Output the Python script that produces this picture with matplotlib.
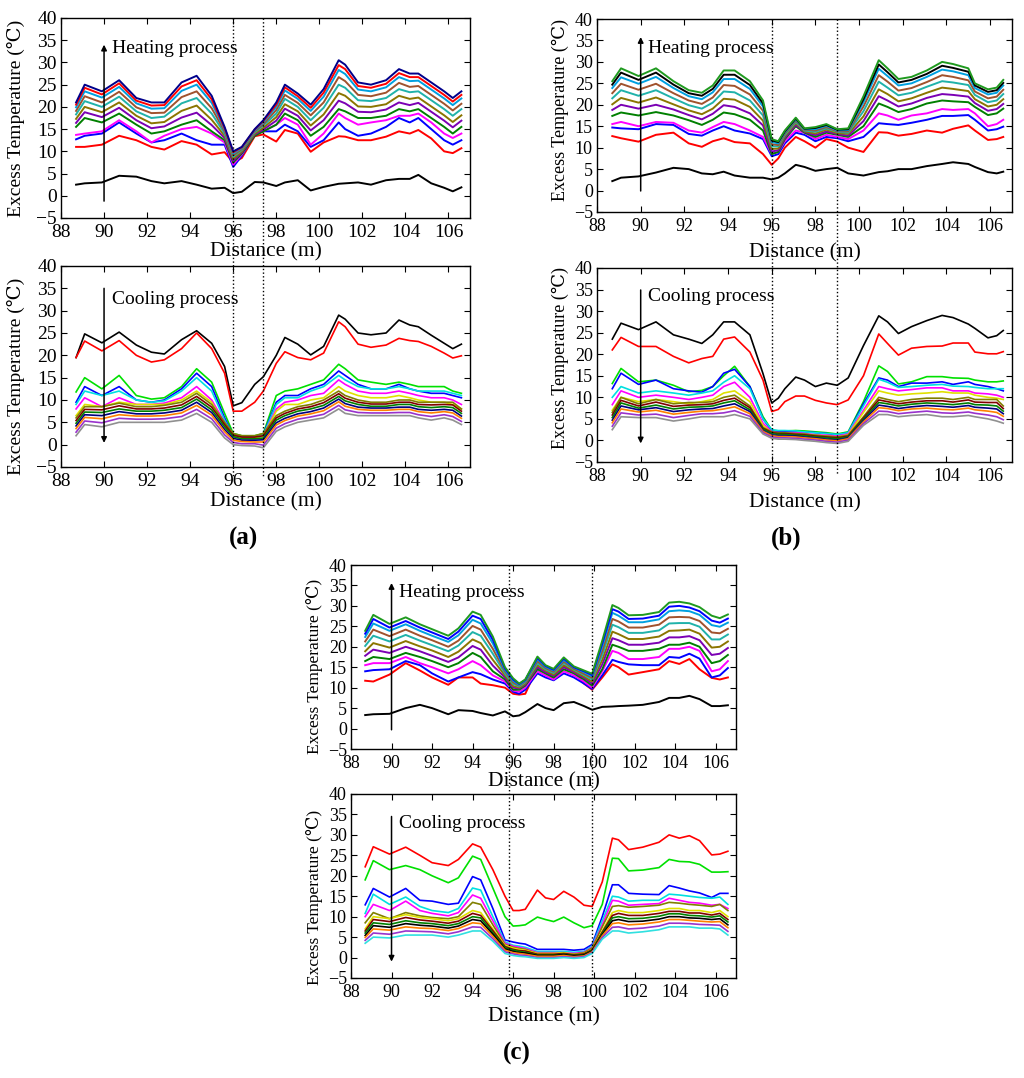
import matplotlib
matplotlib.use("Agg")

import matplotlib.pyplot as plt
from matplotlib import transforms
from matplotlib.lines import Line2D

plt.rcParams['font.family'] = ['Liberation Serif', 'DejaVu Serif']

# ---------------- panel (a) ----------------
xa = [88.7, 89.1, 89.9, 90.7, 91.5, 92.2, 92.8, 93.6, 94.3, 95.0, 95.6, 96.0, 96.4, 97.0, 97.4, 98.0,
      98.4, 99.0, 99.6, 100.2, 100.9, 101.2, 101.8, 102.4, 103.1, 103.7, 104.2, 104.6, 105.2, 105.8, 106.2, 106.6]

# heating, from the first (lowest) profile up to the last one
a_heat = [
    [2.5, 2.8, 3.0, 4.5, 4.3, 3.3, 2.8, 3.3, 2.5, 1.6, 1.8, 0.6, 0.9, 3.1, 3.0, 2.2, 3.0, 3.5, 1.2, 2.0, 2.7, 2.8, 3.0, 2.5, 3.5, 3.8, 3.8, 4.7, 2.8, 1.8, 1.0, 1.9],
    [11, 11, 11.5, 13.5, 12.5, 11, 10.4, 12.3, 11.5, 9.3, 9.8, 7.5, 8.5, 13.4, 13.8, 12.2, 14.8, 14, 9.9, 12, 13.4, 13.3, 12.5, 12.5, 13.3, 14.5, 14, 14.8, 12.9, 10, 9.6, 10.7],
    [12.7, 13.5, 14, 16.5, 14, 12, 12.5, 14, 12.5, 11.5, 11.5, 6.5, 9, 14, 14.5, 14.5, 16, 14.5, 11, 12.5, 16.5, 15, 13.5, 14, 15.5, 17.5, 16.5, 17.5, 15, 12.5, 11.5, 12.5],
    [13.7, 14, 14.5, 17, 14.5, 12, 13.5, 15, 15.5, 14, 12, 7, 9.3, 14, 14.5, 16, 17.5, 16, 11.5, 14, 18.5, 17.5, 16, 16.5, 17, 18, 18, 18.5, 16.5, 14, 13, 14],
    [15.5, 17.5, 16.5, 18.5, 16, 14, 14.5, 16, 17, 14.5, 12.5, 7.5, 9.5, 13.5, 14.5, 16, 18.5, 17, 13.5, 15.5, 19.5, 19, 17.5, 17.5, 18, 19.5, 19, 19.5, 17.5, 15.5, 14, 15.5],
    [16.4, 18.8, 17.7, 19.8, 17, 15.2, 15.6, 17.6, 18.7, 15.9, 13, 7.9, 9.8, 13.8, 14.9, 16.9, 19.6, 18, 14.7, 17, 21.4, 20.8, 18.9, 18.8, 19.4, 21, 20.4, 20.9, 18.9, 16.9, 15.4, 16.9],
    [17.3, 20, 18.8, 21, 18, 16.3, 16.6, 19.1, 20.3, 17.1, 13.5, 8.3, 10, 14, 15.3, 17.7, 20.6, 19, 15.8, 18.3, 23.1, 22.5, 20.1, 20, 20.6, 22.5, 21.8, 22.1, 20.1, 18.1, 16.6, 18.1],
    [18.3, 21.3, 20, 22.3, 19, 17.5, 17.8, 20.8, 22, 18.5, 14, 8.8, 10.3, 14.3, 15.8, 18.5, 21.8, 20, 17, 19.8, 25, 24.3, 21.5, 21.3, 22, 24, 23.3, 23.5, 21.5, 19.5, 18, 19.5],
    [19.1, 22.4, 21, 23.4, 19.9, 18.6, 18.7, 22.2, 23.5, 19.7, 14.5, 9.1, 10.5, 14.5, 16.1, 19.3, 22.7, 20.9, 18.1, 21, 26.7, 25.8, 22.7, 22.4, 23.2, 25.4, 24.5, 24.7, 22.7, 20.7, 19.2, 20.7],
    [19.9, 23.5, 22.1, 24.5, 20.8, 19.6, 19.7, 23.6, 25, 20.9, 14.9, 9.5, 10.7, 14.7, 16.5, 20, 23.7, 21.8, 19.1, 22.3, 28.3, 27.4, 23.9, 23.5, 24.4, 26.7, 25.8, 25.9, 23.9, 21.9, 20.4, 21.9],
    [20.5, 24.3, 22.8, 25.3, 21.4, 20.3, 20.4, 24.6, 26, 21.7, 15.2, 9.8, 10.9, 14.9, 16.8, 20.5, 24.4, 22.4, 19.8, 23.2, 29.4, 28.5, 24.7, 24.3, 25.2, 27.6, 26.7, 26.7, 24.7, 22.7, 21.2, 22.7],
    [21, 25, 23.5, 26, 22, 21, 21, 25.5, 27, 22.5, 15.5, 10, 11, 15, 17, 21, 25, 23, 20.5, 24, 30.5, 29.5, 25.5, 25, 26, 28.5, 27.5, 27.5, 25.5, 23.5, 22, 23.5],
]

# cooling, from the first (highest) profile down to the last one
a_cool = [
    [19.5, 24.8, 22.8, 25.2, 22.3, 20.7, 20.3, 23.5, 25.5, 22.7, 17.5, 8.7, 9.4, 13.5, 15.2, 20, 24, 22.5, 20.1, 22, 29, 28.1, 25, 24.6, 25, 27.9, 26.8, 26.4, 24.5, 22.7, 21.5, 22.5],
    [19.5, 23.2, 21, 23.3, 20, 18.5, 19, 21.5, 25, 21.5, 16, 7.5, 7.5, 9.5, 12, 18.2, 20.8, 19.5, 19, 20.5, 27.5, 26.4, 22.5, 21.8, 22.3, 23.8, 23.3, 23.1, 22, 20.5, 19.4, 19.9],
    [11.8, 15, 12.5, 15.5, 11, 10.2, 10.5, 13, 17, 14, 7, 2.5, 2, 2, 2.5, 11, 12, 12.5, 13.5, 14.5, 18, 17, 14.5, 14, 13.5, 14, 13.5, 13, 13, 13, 12, 11.5],
    [9.5, 13, 11, 13, 10, 9.5, 10, 12.5, 16, 13, 6, 2, 1.8, 1.8, 2.3, 9.5, 11, 11, 12.5, 13.5, 16.5, 15.5, 13.5, 12.5, 12.5, 13.5, 12.5, 12, 11.5, 11.5, 11, 10.5],
    [9, 12, 11, 12, 10, 9.5, 9.8, 12, 15, 12, 5.5, 2, 1.7, 1.8, 2.2, 9, 10.5, 10.5, 12, 13, 15.5, 14.5, 13, 12.5, 12.5, 13, 12.5, 12, 12, 12, 11.5, 11],
    [8, 10.5, 8.5, 10.5, 9, 9, 9.3, 10.5, 13, 10, 5, 2, 1.5, 1.5, 2, 8, 9.5, 10, 11, 11.5, 14.5, 13.5, 12, 11.5, 11.5, 12, 11.5, 11, 10.5, 10.5, 10, 9],
    [6.5, 9, 8.5, 9.5, 9, 9, 9, 10, 12, 9.5, 4.5, 1.8, 1.5, 1.5, 2, 7.5, 9, 9, 10, 10.5, 13, 12, 11, 10.5, 10.5, 11, 10.5, 10, 9.5, 9.5, 9, 8],
    [6, 8.5, 8.5, 9.3, 8.5, 8.5, 8.8, 9.5, 11.5, 9, 5, 2.5, 2, 2, 2.5, 6.5, 7.5, 8.5, 9, 10, 12, 11, 10, 9.5, 9.5, 10, 10, 9.5, 9.5, 9.5, 9.5, 8],
    [5.4, 7.9, 7.8, 8.7, 8, 8, 8.2, 8.9, 10.8, 8.4, 4.5, 2.1, 1.7, 1.7, 2, 6, 7, 8, 8.5, 9.4, 11.4, 10.4, 9.5, 9.1, 9.1, 9.5, 9.5, 9, 8.9, 9, 8.9, 7.5],
    [4.8, 7.3, 7.2, 8, 7.5, 7.5, 7.7, 8.3, 10.2, 7.8, 4, 1.8, 1.3, 1.3, 1.5, 5.5, 6.5, 7.5, 8, 8.8, 10.8, 9.8, 9, 8.6, 8.6, 9, 9, 8.5, 8.3, 8.5, 8.3, 7],
    [4.2, 6.7, 6.5, 7.4, 6.9, 6.9, 7.1, 7.7, 9.5, 7.2, 3.4, 1.4, 1, 1, 1.1, 4.9, 5.9, 6.9, 7.4, 8.2, 10.2, 9.2, 8.4, 8.2, 8.2, 8.4, 8.4, 7.9, 7.7, 7.9, 7.7, 6.4],
    [3.6, 6.1, 5.8, 6.7, 6.4, 6.4, 6.5, 7.1, 8.8, 6.6, 2.9, 1, 0.7, 0.6, 0.6, 4.4, 5.4, 6.4, 6.9, 7.6, 9.6, 8.6, 7.9, 7.7, 7.7, 7.9, 7.9, 7.4, 7.1, 7.4, 7.1, 5.9],
    [2.8, 5.3, 4.9, 5.9, 5.7, 5.7, 5.8, 6.3, 7.9, 5.8, 2.2, 0.5, 0.2, 0.2, -0.1, 3.7, 4.7, 5.7, 6.2, 6.8, 8.8, 7.8, 7.2, 7.1, 7.1, 7.2, 7.2, 6.7, 6.3, 6.7, 6.3, 5.2],
    [2, 4.5, 4, 5, 5, 5, 5, 5.5, 7, 5, 1.5, 0, -0.2, -0.3, -0.7, 3, 4, 5, 5.5, 6, 8, 7, 6.5, 6.5, 6.5, 6.5, 6.5, 6, 5.5, 6, 5.5, 4.5],
]

# ---------------- panel (b) ----------------
xb = [88.7, 89.1, 89.9, 90.7, 91.5, 92.2, 92.8, 93.3, 93.8, 94.3, 95.0, 95.6, 96.0, 96.3, 96.6, 97.1, 97.5,
      98.0, 98.5, 99.0, 99.5, 100.2, 100.9, 101.3, 101.8, 102.4, 103.1, 103.8, 104.3, 105.0, 105.3, 105.9, 106.3, 106.6]

b_heat = [
    [2.2, 3, 3.3, 4.2, 5.3, 5, 4, 3.8, 4.4, 3.5, 3, 3, 2.6, 3, 4, 6, 5.5, 4.6, 5, 5.3, 4, 3.5, 4.3, 4.5, 5, 5, 5.7, 6.2, 6.6, 6.2, 5.5, 4.3, 4, 4.4],
    [12.7, 12.2, 11.4, 13, 13.5, 11, 10.2, 11.5, 12.2, 11.3, 11, 8.5, 6, 7.5, 10, 12.5, 11.5, 10, 12, 11.4, 10, 9, 13.6, 13.5, 12.8, 13.2, 14, 13.5, 14.4, 15.2, 14, 11.8, 12, 12.5],
    [14.7, 14.5, 14.3, 15.5, 15.3, 13.2, 12.8, 14, 15, 14, 13.3, 12, 8, 8.5, 11, 13.5, 13, 11.5, 12.5, 12.2, 11.5, 12.5, 15.7, 15.5, 15.3, 15.8, 16.5, 17.4, 17.4, 17.6, 16.5, 14, 14.3, 14.9],
    [15.5, 16, 15, 16, 15.8, 14, 13.5, 14.8, 16, 15.5, 14, 12.5, 8.5, 9, 11.5, 14, 13.5, 12, 13, 12.5, 12, 14, 18, 17.5, 16.5, 17.5, 18, 19, 18.8, 19, 18, 15, 15.5, 16.5],
    [17.4, 18.2, 17.5, 18.3, 17.5, 16.4, 15.3, 16.5, 18.2, 17.8, 16.5, 14, 8.5, 9, 12, 15, 13.5, 12.5, 13.5, 13, 12.5, 15, 20.3, 19.5, 18.3, 19, 20.3, 21, 20.8, 20.6, 19.5, 17.6, 18, 19.1],
    [18.8, 20, 19.1, 20, 18.9, 17.6, 16.6, 17.9, 19.9, 19.5, 18, 15.2, 9.1, 9.4, 12.3, 15.3, 13.7, 12.9, 13.8, 13.2, 12.8, 16.2, 22, 21, 19.6, 20.3, 21.6, 22.5, 22.3, 21.9, 20.4, 18.6, 19, 20.2],
    [20.1, 21.6, 20.5, 21.7, 20.1, 18.7, 17.8, 19.1, 21.4, 21.2, 19.5, 16.3, 9.7, 9.8, 12.7, 15.7, 13.8, 13.3, 14.2, 13.4, 13.2, 17.3, 23.6, 22.5, 20.8, 21.5, 22.8, 24, 23.7, 23.2, 21.3, 19.6, 20, 21.3],
    [21.5, 23.4, 22.1, 23.4, 21.5, 19.9, 19.1, 20.5, 23.1, 22.9, 21, 17.5, 10.3, 10.3, 13, 16, 14, 13.7, 14.5, 13.7, 13.5, 18.5, 25.4, 24, 22.2, 22.8, 24.2, 25.5, 25.2, 24.6, 22.3, 20.6, 21, 22.5],
    [22.7, 24.9, 23.5, 24.9, 22.7, 21, 20.2, 21.7, 24.6, 24.4, 22.4, 18.6, 10.8, 10.6, 13.3, 16.3, 14.2, 14, 14.8, 13.8, 13.8, 19.6, 26.9, 25.4, 23.3, 23.9, 25.3, 26.9, 26.5, 25.7, 23.1, 21.5, 21.9, 23.5],
    [23.9, 26.4, 24.9, 26.5, 23.9, 22, 21.3, 22.9, 26, 26, 23.7, 19.6, 11.3, 11, 13.6, 16.6, 14.3, 14.3, 15.1, 14, 14.1, 20.6, 28.4, 26.7, 24.5, 25, 26.5, 28.2, 27.8, 26.9, 23.9, 22.4, 22.8, 24.5],
    [24.7, 27.5, 25.8, 27.5, 24.7, 22.7, 22.1, 23.7, 27, 27, 24.6, 20.3, 11.7, 11.3, 13.8, 16.8, 14.4, 14.6, 15.3, 14.2, 14.3, 21.3, 29.4, 27.6, 25.2, 25.8, 27.2, 29.1, 28.6, 27.7, 24.5, 23, 23.4, 25.1],
    [25.5, 28.5, 26.7, 28.5, 25.5, 23.4, 22.8, 24.5, 28, 28, 25.5, 21, 12, 11.5, 14, 17, 14.5, 14.8, 15.5, 14.3, 14.5, 22, 30.4, 28.5, 26, 26.5, 28, 30, 29.5, 28.5, 25, 23.6, 24, 25.8],
]

b_cool = [
    [23.5, 27.2, 25.7, 27.5, 24.5, 23.5, 22.5, 24.5, 27.5, 27.5, 24.5, 15.5, 8.7, 9.8, 12, 14.7, 14, 12.5, 13.3, 12.8, 14.5, 22, 28.9, 27.5, 24.8, 26.4, 27.8, 29, 28.5, 27, 26, 23.8, 24.3, 25.5],
    [21, 23.9, 21.8, 21.8, 19.5, 18, 19, 19.5, 23.5, 24, 20.5, 14, 6.7, 7.2, 9, 10.3, 10.3, 9.3, 8.7, 8.3, 9.4, 15, 24.7, 22.5, 19.8, 21.4, 21.8, 21.9, 22.6, 22.6, 20.5, 20.1, 20.1, 20.6],
    [13.2, 16.7, 13.6, 14, 12.8, 11.3, 11.6, 12.5, 15, 17.2, 12.5, 5.5, 2.4, 2.2, 2.2, 2.3, 2.2, 2, 1.8, 1.5, 2, 9, 17.3, 16, 13.1, 13.6, 14.8, 14.8, 14.5, 14.4, 14, 13.6, 13.6, 13.8],
    [12, 15.6, 13, 14, 12, 11.5, 11.2, 12.5, 15.6, 16.5, 12.5, 5, 2.2, 2, 2, 2, 2, 1.8, 1.6, 1.3, 1.8, 8.5, 14.5, 14, 12.5, 13.3, 13.3, 13.6, 13, 13.6, 13, 12.5, 12, 11.5],
    [10, 12.5, 11, 11.5, 11, 10.5, 11, 11.5, 13.5, 15, 12, 5, 2.5, 2.3, 2.3, 2.2, 2, 1.8, 1.6, 1.4, 1.8, 8, 14.2, 13.5, 12.3, 12.5, 12.8, 13, 12.6, 12.5, 12.3, 12, 12, 12],
    [8.3, 11.5, 10, 10.5, 10, 9.5, 10, 10.5, 12.5, 13.5, 10, 4, 2, 1.8, 1.8, 1.8, 1.6, 1.3, 1.2, 1, 1.5, 7, 12.5, 12, 11.5, 11.8, 12.2, 12.2, 11.5, 11.5, 11, 10.8, 10.5, 10],
    [7, 10, 9, 9.5, 9, 8.5, 9, 9.5, 11, 11.5, 9, 3.5, 1.8, 1.6, 1.6, 1.5, 1.4, 1.2, 1, 0.8, 1.3, 6.5, 11.5, 11, 10.5, 10.8, 11, 11.3, 11, 11, 10.5, 10, 9.8, 9.5],
    [6.5, 10, 8.5, 9.5, 8.5, 8.8, 8.8, 9, 10, 10.5, 8, 3, 2, 1.8, 1.8, 1.6, 1.5, 1.2, 1, 0.8, 1.2, 5.5, 10, 9.5, 9, 9.5, 9.8, 9.8, 9.5, 10, 9.5, 9.5, 9.5, 8],
    [5.9, 9.3, 8, 8.9, 7.9, 8.2, 8.3, 8.5, 9.3, 9.8, 7.6, 2.8, 1.8, 1.6, 1.6, 1.4, 1.3, 1, 0.8, 0.6, 1, 5.2, 9.4, 9, 8.5, 8.9, 9.2, 9.2, 8.9, 9.4, 8.9, 8.8, 8.8, 7.4],
    [5.3, 8.7, 7.5, 8.2, 7.3, 7.7, 7.8, 8, 8.7, 9.2, 7.1, 2.6, 1.6, 1.4, 1.4, 1.2, 1.1, 0.8, 0.6, 0.4, 0.8, 4.9, 8.8, 8.5, 8, 8.4, 8.7, 8.5, 8.3, 8.7, 8.3, 8.2, 8, 6.8],
    [4.7, 8, 7.1, 7.6, 6.7, 7.1, 7.3, 7.4, 8, 8.5, 6.7, 2.3, 1.3, 1.1, 1.1, 1, 0.8, 0.6, 0.3, 0.1, 0.6, 4.6, 8.2, 7.9, 7.4, 7.8, 8.1, 7.9, 7.7, 8.1, 7.7, 7.5, 7.3, 6.2],
    [4.1, 7.3, 6.6, 7, 6.1, 6.5, 6.8, 6.9, 7.3, 7.8, 6.2, 2.1, 1.1, 0.9, 0.9, 0.8, 0.6, 0.4, 0.1, -0.1, 0.4, 4.3, 7.6, 7.4, 6.9, 7.3, 7.5, 7.2, 7.1, 7.5, 7.1, 6.8, 6.5, 5.6],
    [3.3, 6.4, 5.9, 6.1, 5.3, 5.8, 6.2, 6.2, 6.4, 6.9, 5.6, 1.8, 0.8, 0.6, 0.6, 0.5, 0.3, 0.1, -0.2, -0.4, 0.1, 3.9, 6.8, 6.7, 6.2, 6.5, 6.8, 6.4, 6.3, 6.6, 6.3, 5.9, 5.5, 4.8],
    [2.5, 5.5, 5.3, 5.3, 4.5, 5, 5.5, 5.5, 5.5, 6, 5, 1.5, 0.5, 0.3, 0.3, 0.2, 0, -0.2, -0.5, -0.7, -0.2, 3.5, 6, 6, 5.5, 5.8, 6, 5.5, 5.5, 5.8, 5.5, 5, 4.5, 4],
]

# ---------------- panel (c) ----------------
xc = [88.7, 89.1, 89.9, 90.7, 91.4, 92.0, 92.8, 93.3, 94.0, 94.4, 95.0, 95.6, 96.0, 96.3, 96.6, 97.2, 97.6, 98.0,
      98.5, 99.0, 99.5, 99.9, 100.4, 100.9, 101.2, 101.7, 102.4, 103.2, 103.7, 104.2, 104.7, 105.2, 105.8, 106.2, 106.6]

c_heat = [
    [3.3, 3.5, 3.6, 5.0, 5.8, 5, 3.5, 4.5, 4.3, 3.8, 3.2, 4.2, 3, 3.2, 4, 6, 5, 4.5, 6.2, 6.5, 5.5, 4.6, 5.3, 5.4, 5.5, 5.6, 5.8, 6.5, 7.5, 7.5, 8, 7.2, 5.5, 5.5, 5.7],
    [11.7, 11.5, 13.2, 16, 14.2, 12.5, 10.7, 12.5, 12.5, 11, 10.6, 10, 8.5, 8.3, 8.5, 15, 13.5, 12.4, 15.4, 13.8, 11, 9.5, 12.5, 15.7, 15, 13.2, 13.8, 14.5, 16.5, 15.8, 17, 14.5, 12.4, 12, 12.5],
    [14, 14.3, 14.5, 16.5, 15.5, 13.5, 11.5, 12.5, 13.8, 13.3, 12, 11, 9, 8.5, 9.5, 13.5, 12.5, 11.8, 13.5, 12.5, 11, 9.7, 13, 16.8, 16.3, 15.7, 15.5, 15.5, 17.5, 17.3, 18.3, 17.1, 12.5, 13, 14.8],
    [15.5, 16, 16, 17.5, 16, 15, 13.5, 14.5, 16.5, 15.5, 13, 11.5, 9.3, 9, 10, 14, 13, 12, 14, 13, 11.5, 10, 14, 19, 18.5, 17, 17, 17.5, 19.5, 19.5, 20, 19, 14, 14.5, 16.5],
    [16.5, 17.5, 17, 18.5, 17.5, 16.5, 15, 16, 18.5, 17.5, 14, 12, 9.5, 9.5, 10.5, 14.5, 13.5, 12.5, 14.5, 13.5, 12, 10.5, 14.5, 20.5, 20, 19, 19, 19.5, 20.5, 20.5, 21, 20, 16, 16.5, 18],
    [17.8, 19.3, 18.5, 20, 18.9, 17.8, 16.3, 17.4, 20.2, 19.3, 15.4, 12.5, 10, 9.8, 10.8, 15, 13.8, 12.9, 15, 13.8, 12.4, 11, 15.7, 22.1, 21.6, 20.5, 20.5, 21, 22.3, 22.3, 22.6, 21.6, 18, 18.3, 19.7],
    [18.9, 20.9, 19.8, 21.4, 20.1, 19.1, 17.5, 18.8, 21.8, 20.9, 16.8, 13, 10.4, 10, 11, 15.5, 14.2, 13.2, 15.5, 14.1, 12.7, 11.5, 16.8, 23.7, 23.1, 21.9, 21.9, 22.5, 23.9, 24, 24.2, 23.2, 19.8, 20, 21.3],
    [20.2, 22.7, 21.3, 22.9, 21.5, 20.4, 18.9, 20.3, 23.6, 22.7, 18.3, 13.5, 10.9, 10.3, 11.3, 16, 14.5, 13.6, 16, 14.4, 13.1, 12, 18, 25.4, 24.8, 23.4, 23.4, 24, 25.7, 25.8, 25.8, 24.9, 21.8, 21.8, 23],
    [21.3, 24.2, 22.6, 24.2, 22.7, 21.6, 20, 21.5, 25.1, 24.2, 19.5, 14, 11.3, 10.5, 11.5, 16.5, 14.8, 13.9, 16.4, 14.6, 13.4, 12.4, 19, 26.8, 26.2, 24.7, 24.7, 25.4, 27.2, 27.3, 27.2, 26.3, 23.5, 23.3, 24.4],
    [22.4, 25.7, 23.9, 25.5, 23.9, 22.7, 21.2, 22.8, 26.6, 25.7, 20.8, 14.4, 11.7, 10.7, 11.7, 17, 15.1, 14.2, 16.8, 14.9, 13.8, 12.8, 20.1, 28.3, 27.6, 26, 26, 26.7, 28.7, 28.9, 28.7, 27.8, 25.3, 24.9, 25.9],
    [23.2, 26.8, 24.7, 26.3, 24.7, 23.5, 21.9, 23.7, 27.6, 26.8, 21.7, 14.7, 12, 10.9, 11.9, 17.3, 15.3, 14.4, 17.1, 15, 14, 13.1, 20.8, 29.2, 28.6, 26.8, 26.9, 27.6, 29.8, 30, 29.6, 28.7, 26.4, 25.9, 26.9],
    [23.9, 27.8, 25.6, 27.2, 25.5, 24.3, 22.7, 24.5, 28.6, 27.8, 22.5, 15, 12.3, 11, 12, 17.6, 15.5, 14.6, 17.4, 15.2, 14.2, 13.4, 21.5, 30.2, 29.5, 27.7, 27.8, 28.5, 30.8, 31, 30.6, 29.7, 27.6, 27, 27.9],
]

c_cool = [
    [22.2, 27.1, 25.3, 27, 25, 23.2, 22.5, 24, 27.8, 27, 21.5, 15, 11.5, 11.5, 11.8, 16.5, 14.6, 14.2, 16.2, 14.8, 12.8, 12.5, 18.5, 29.2, 28.8, 26.4, 27, 28.2, 30, 29.2, 29.8, 28.6, 25.1, 25.3, 26],
    [19, 23.7, 21.5, 22.5, 21.5, 20, 18.3, 19.5, 24.8, 24, 17, 10, 7.7, 7.8, 8, 9.9, 9.3, 8.8, 9.9, 8.5, 7.3, 7.8, 13, 24.3, 24.2, 21.2, 21.4, 22, 24, 23.5, 23.4, 22.8, 20.9, 20.9, 21],
    [12.9, 16.9, 14.8, 16.9, 14, 13.8, 13, 13.3, 19.8, 19, 12, 4.3, 3.8, 3.5, 3.3, 2, 2, 2, 2, 1.8, 2, 3.2, 10, 17.8, 17.8, 15.7, 15.5, 15.4, 17.6, 17, 16.3, 15.8, 14.7, 15.7, 15.7],
    [10.8, 15.5, 13, 14.8, 12.5, 11.5, 11, 12, 17, 16.5, 10, 3.8, 3, 2.8, 2.5, 1.5, 1.5, 1.5, 1.5, 1.3, 1.5, 2.8, 9, 15, 14.8, 13.8, 14, 14, 15.5, 15.3, 15, 14.7, 14.5, 14.8, 13],
    [10, 13, 11.5, 13.8, 11.5, 10.8, 10.2, 11, 15.3, 14.5, 9, 3.5, 2.8, 2.5, 2.2, 1.2, 1.2, 1.2, 1.2, 1, 1.3, 2.5, 8, 14, 13.8, 12.8, 13, 13.2, 14.5, 14, 13.5, 13.3, 12.8, 13, 12],
    [8.5, 11, 9.5, 11, 10.2, 9.8, 9.5, 10, 13.5, 13, 8, 3.2, 2.5, 2.2, 2, 1, 1, 1, 1, 0.8, 1.2, 2.3, 7.5, 12.5, 12.7, 12.3, 12.5, 12.8, 13.5, 13.3, 13, 12.8, 12.5, 13, 11.5],
    [7, 10, 9.5, 10.5, 9.8, 9.5, 9, 9.5, 11.5, 11, 7, 3, 2.3, 2, 1.8, 1, 1, 1, 1.2, 0.8, 1, 2, 6.5, 11, 11.5, 11, 11, 11.5, 12, 12, 11.5, 11.5, 11, 11.5, 10],
    [6.5, 9.3, 8.8, 9.8, 9.2, 8.9, 8.4, 8.9, 10.8, 10.3, 6.6, 2.7, 2, 1.7, 1.6, 0.8, 0.8, 0.8, 1, 0.7, 0.9, 1.9, 6.2, 10.3, 10.8, 10.3, 10.3, 10.8, 11.3, 11.3, 10.9, 10.9, 10.4, 10.8, 9.3],
    [6, 8.5, 8.1, 9, 8.5, 8.3, 7.8, 8.3, 10, 9.7, 6.1, 2.4, 1.8, 1.5, 1.3, 0.6, 0.6, 0.6, 0.8, 0.5, 0.7, 1.7, 5.9, 9.7, 10, 9.5, 9.6, 10.1, 10.7, 10.7, 10.3, 10.2, 9.9, 10.2, 8.7],
    [5.4, 7.8, 7.4, 8.3, 7.9, 7.7, 7.2, 7.7, 9.3, 9, 5.7, 2.1, 1.5, 1.2, 1.1, 0.5, 0.5, 0.5, 0.7, 0.4, 0.6, 1.6, 5.6, 9, 9.3, 8.8, 8.9, 9.4, 10, 10, 9.7, 9.6, 9.3, 9.5, 8],
    [4.9, 7, 6.7, 7.5, 7.2, 7.1, 6.6, 7.1, 8.5, 8.3, 5.2, 1.8, 1.2, 1, 0.8, 0.3, 0.3, 0.3, 0.5, 0.2, 0.4, 1.4, 5.3, 8.3, 8.5, 8, 8.2, 8.7, 9.3, 9.3, 9.1, 8.9, 8.7, 8.8, 7.3],
    [4.2, 6, 5.7, 6.5, 6.4, 6.3, 5.8, 6.3, 7.5, 7.4, 4.6, 1.4, 0.9, 0.6, 0.5, 0, 0, 0, 0.2, 0, 0.2, 1.2, 4.9, 7.4, 7.5, 7, 7.2, 7.7, 8.4, 8.4, 8.3, 8.1, 8, 7.9, 6.4],
    [3.5, 5, 4.8, 5.5, 5.5, 5.5, 5, 5.5, 6.5, 6.5, 4, 1, 0.5, 0.3, 0.2, -0.2, -0.2, -0.2, 0, -0.2, 0, 1, 4.5, 6.5, 6.5, 6, 6.3, 6.8, 7.5, 7.5, 7.5, 7.2, 7.2, 7, 5.5],
]

# bounds of the test sections (dotted lines)
a_marks = [96.0, 97.4]
b_marks = [96.0, 99.0]
c_marks = [95.8, 99.9]

heat_mid = ['black', 'red', 'blue', 'magenta', '#008000', '#7b00b4', '#8b7500', '#20b2aa', '#a0522d', '#00a0e0']
a_heat_colors = heat_mid + ['red', '#00008b']
b_heat_colors = heat_mid + ['black', '#1f9a1f']
c_heat_colors = heat_mid + ['#0000ff', '#1f9a1f']
cool_low = ['#808000', '#800000', '#008000', '#000080', '#ff8000', '#9932cc', '#909090']
ab_cool_colors = ['black', 'red', '#00e000', 'blue', '#00e0e0', 'magenta', '#e0e000'] + cool_low
c_cool_colors = ['red', '#00e000', 'blue', '#00e0e0', 'magenta', '#808000', '#e0e000',
                 '#800000', '#008000', 'black', '#ff8000', '#9932cc', '#30e0e0']

fig = plt.figure(figsize=(10.24, 10.78), dpi=100)
W, H = 1024.0, 1078.0


def add_axes(px_left, px_top, px_right, px_bottom):
    return fig.add_axes([px_left / W, 1 - px_bottom / H, (px_right - px_left) / W, (px_bottom - px_top) / H])


def draw(ax, x, lines, colors, fs, lw):
    for y, c in zip(lines, colors):
        ax.plot(x, y, color=c, lw=lw)
    ax.set_xlim(88, 107)
    ax.set_ylim(-5, 40)
    ax.set_xticks(range(88, 107, 2))
    ax.set_yticks(range(-5, 41, 5))
    ax.tick_params(direction='in', top=True, right=True, labelsize=fs, length=4)
    ax.tick_params(axis='x', pad=4)
    ax.tick_params(axis='y', pad=3)
    for s in ax.spines.values():
        s.set_linewidth(1.0)


def labels(ax, ylab_x, ylab_y, xlab_y, yfs):
    ax.set_ylabel('Excess Temperature (℃)', fontsize=yfs)
    ax.yaxis.set_label_coords(ylab_x, ylab_y)
    ax.set_xlabel('Distance (m)', fontsize=15.5)
    ax.xaxis.set_label_coords(0.5, xlab_y)


def process(ax, text, y_text, y_from, y_to):
    ax.text(90.35, y_text, text, fontsize=14, va='center', ha='left')
    ax.annotate('', xy=(90, y_to), xytext=(90, y_from),
                arrowprops=dict(arrowstyle='-|>', color='k', lw=1.1, mutation_scale=8, shrinkA=0, shrinkB=0))


def marks(ax, xs, fy_top, fy_bottom):
    tr = transforms.blended_transform_factory(ax.transData, fig.transFigure)
    for xv in xs:
        fig.add_artist(Line2D([xv, xv], [fy_top, fy_bottom], transform=tr, color='k', ls=':', lw=1.0))


# (a)
ax1 = add_axes(61, 18, 470, 218)
draw(ax1, xa, a_heat, a_heat_colors, 14, 1.4)
labels(ax1, -0.088, 0.5, -0.12, 14)
process(ax1, 'Heating process', 33.2, -1.2, 34)

ax2 = add_axes(61, 266, 470, 467)
draw(ax2, xa, a_cool, ab_cool_colors, 14, 1.2)
labels(ax2, -0.088, 0.45, -0.125, 14)
process(ax2, 'Cooling process', 32.6, 35, 0.4)
marks(ax1, a_marks, 1 - 18 / H, 1 - 478 / H)

# (b)
ax3 = add_axes(597, 19, 1012, 212)
draw(ax3, xb, b_heat, b_heat_colors, 13, 1.4)
labels(ax3, -0.068, 0.53, -0.16, 13)
process(ax3, 'Heating process', 33.2, -0.1, 35.8)

ax4 = add_axes(597, 268, 1012, 462)
draw(ax4, xb, b_cool, ab_cool_colors, 13, 1.2)
labels(ax4, -0.068, 0.536, -0.16, 13)
process(ax4, 'Cooling process', 33.5, 34.9, -0.7)
marks(ax3, b_marks, 1 - 19 / H, 1 - 475 / H)

# (c)
ax5 = add_axes(351, 565, 736, 749)
draw(ax5, xc, c_heat, c_heat_colors, 13, 1.4)
labels(ax5, -0.073, 0.45, -0.128, 12.5)
process(ax5, 'Heating process', 33.2, -0.3, 35.6)

ax6 = add_axes(351, 794, 736, 978)
draw(ax6, xc, c_cool, c_cool_colors, 13, 1.2)
labels(ax6, -0.073, 0.44, -0.16, 12.5)
process(ax6, 'Cooling process', 32.9, 34.5, -1)
marks(ax5, c_marks, 1 - 565 / H, 1 - 978 / H)

fig.text(243 / W, 1 - 538 / H, '(a)', fontsize=18, fontweight='bold', ha='center', va='center')
fig.text(786 / W, 1 - 538 / H, '(b)', fontsize=18, fontweight='bold', ha='center', va='center')
fig.text(517 / W, 1 - 1053 / H, '(c)', fontsize=18, fontweight='bold', ha='center', va='center')

fig.savefig('out.png', dpi=100)
